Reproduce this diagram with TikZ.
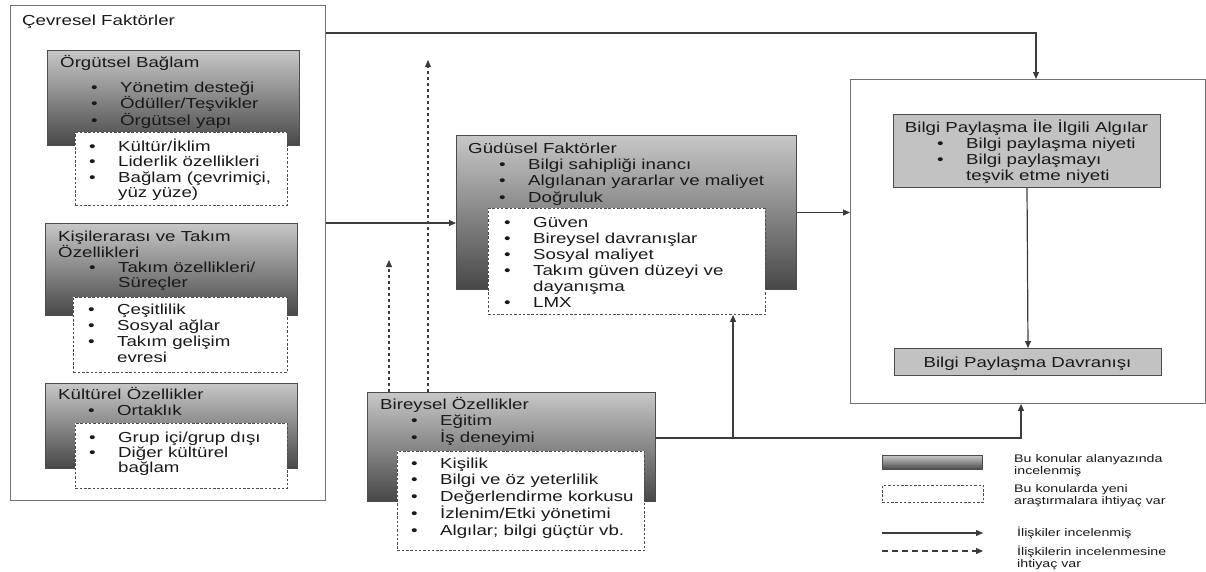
\documentclass[tikz,border=0pt]{standalone}
\usepackage{fontspec}
\setmainfont{Liberation Sans}[FakeStretch=1.29]
\usetikzlibrary{arrows.meta}

\definecolor{ink}{gray}{0.1}
\definecolor{edge}{gray}{0.3}
\definecolor{shadetop}{gray}{0.78}
\definecolor{shadebot}{gray}{0.28}
\definecolor{flatgray}{gray}{0.76}

\newcommand{\bul}{\makebox[29pt][l]{\textbullet}}
\newcommand{\cnt}{\hspace*{29pt}}
\newcommand{\rows}[1]{\begin{tabular}[t]{@{}l@{}}#1\end{tabular}}

\begin{document}
\begin{tikzpicture}[
  x=1pt, y=-1pt,
  every node/.append style={text=ink},
  sz/.style 2 args={minimum width=#1pt, minimum height=#2pt},
  frame/.style={draw=edge!80, line width=0.9pt, anchor=north west, inner sep=0pt},
  shadebox/.style={draw=edge, line width=1pt, top color=shadetop,
    bottom color=shadebot, anchor=north west, inner sep=0pt},
  flatbox/.style={draw=edge, line width=1pt, fill=flatgray, anchor=north west,
    inner sep=0pt},
  gapbox/.style={draw=edge, line width=0.9pt, dash pattern=on 2.5pt off 1.8pt,
    fill=white, anchor=north west, inner sep=0pt},
  txt/.style={anchor=base west, inner sep=0pt, font=\fontsize{14.5}{#1}\selectfont},
  txt/.default=16,
  key/.style={anchor=base west, inner sep=0pt, font=\fontsize{11}{12}\selectfont},
  rel/.style={draw=ink!85, line width=1.2pt, -{Triangle[length=7pt,width=6pt]}},
  relopen/.style={rel, dash pattern=on 3.5pt off 2.5pt},
  keyopen/.style={rel, dash pattern=on 6pt off 4pt},
]
\useasboundingbox (0,0) rectangle (1206,571);

% ------------------------------------------------------ the two frames
\node[frame, sz={315}{495}] (cevre) at (10,5) {};
\node[frame, sz={355}{324}] (sonuc) at (850,79) {};
\node[txt] (cevre-t) at (22,25) {Çevresel Faktörler};

% ------------------------------------------------------ örgütsel bağlam
\node[shadebox, sz={252}{95}] (orgut) at (47,50) {};
\node[txt] (orgut-t) at (60,67) {Örgütsel Bağlam};
\node[txt=15] (orgut-l) at (91,92)
  {\rows{\bul Yönetim desteği\\ \bul Ödüller/Teşvikler\\ \bul Örgütsel yapı}};
\node[gapbox, sz={212}{73}] (orgut-d) at (75,132) {};
\node[txt=15.5] (orgut-dl) at (89,151)
  {\rows{\bul Kültür/İklim\\ \bul Liderlik özellikleri\\
   \bul Bağlam (çevrimiçi,\\ \cnt yüz yüze)}};

% ------------------------------------------------------ kişilerarası
\node[shadebox, sz={252}{92}] (kisi) at (45,223) {};
\node[txt=15] (kisi-t) at (58,241) {\rows{Kişilerarası ve Takım\\ Özellikleri}};
\node[txt=15.5] (kisi-l) at (89,272) {\rows{\bul Takım özellikleri/\\ \cnt Süreçler}};
\node[gapbox, sz={214}{75}] (kisi-d) at (73,297) {};
\node[txt=16.3] (kisi-dl) at (88,314)
  {\rows{\bul Çeşitlilik\\ \bul Sosyal ağlar\\ \bul Takım gelişim\\ \cnt evresi}};

% ------------------------------------------------------ kültürel
\node[shadebox, sz={252}{85}] (kultur) at (45,383) {};
\node[txt] (kultur-t) at (58,399) {Kültürel Özellikler};
\node[txt] (kultur-l) at (88,415) {\rows{\bul Ortaklık}};
\node[gapbox, sz={212}{65}] (kultur-d) at (75,423) {};
\node[txt=15.3] (kultur-dl) at (89,442)
  {\rows{\bul Grup içi/grup dışı\\ \bul Diğer kültürel\\ \cnt bağlam}};

% ------------------------------------------------------ güdüsel
\node[shadebox, sz={340}{154}] (gudu) at (456,135) {};
\node[txt] (gudu-t) at (468,153) {Güdüsel Faktörler};
\node[txt=16.5] (gudu-l) at (499,169)
  {\rows{\bul Bilgi sahipliği inancı\\ \bul Algılanan yararlar ve maliyet\\
   \bul Doğruluk}};
\node[gapbox, sz={277}{106}] (gudu-d) at (488,208) {};
\node[txt=16.1] (gudu-dl) at (504,227)
  {\rows{\bul Güven\\ \bul Bireysel davranışlar\\ \bul Sosyal maliyet\\
   \bul Takım güven düzeyi ve\\ \cnt dayanışma\\ \bul LMX}};

% ------------------------------------------------------ bireysel
\node[shadebox, sz={288}{109}] (birey) at (367,392) {};
\node[txt] (birey-t) at (380,409) {Bireysel Özellikler};
\node[txt] (birey-l) at (411,425) {\rows{\bul Eğitim\\ \bul İş deneyimi}};
\node[gapbox, sz={247}{99}] (birey-d) at (397,451) {};
\node[txt=16.5] (birey-dl) at (411,468)
  {\rows{\bul Kişilik\\ \bul Bilgi ve öz yeterlilik\\ \bul Değerlendirme korkusu\\
   \bul İzlenim/Etki yönetimi\\ \bul Algılar; bilgi güçtür vb.}};

% ------------------------------------------------------ bilgi paylaşma
\node[flatbox, sz={267}{73}] (algi) at (893,114) {};
\node[txt, anchor=base] (algi-t) at (1026.5,132) {Bilgi Paylaşma İle İlgili Algılar};
\node[txt] (algi-l) at (937,148)
  {\rows{\bul Bilgi paylaşma niyeti\\ \bul Bilgi paylaşmayı\\ \cnt teşvik etme niyeti}};
\node[flatbox, sz={267}{27}] (davr) at (894,348) {};
\node[txt, anchor=base] (davr-t) at (1027.5,367) {Bilgi Paylaşma Davranışı};

% ------------------------------------------------------ relations
\coordinate (k1) at (1036,33);
\coordinate (k2) at (0,223);
\coordinate (k4) at (1021,438);
\coordinate (k5) at (733,438);
\coordinate (up1) at (428,60);
\coordinate (up2) at (389,260);
\draw[rel] (cevre.east |- k1) -- (k1) -- (sonuc.north -| k1);
\draw[rel] (cevre.east |- k2) -- (gudu.west |- k2);
\draw[rel] (gudu.east) -- (sonuc.west |- gudu.east);
\draw[rel] (birey.east |- k4) -- (k4) -- (sonuc.south -| k4);
\draw[rel] (k5) -- (gudu-d.south -| k5);
\draw[rel] (algi.south) -- (davr.north);
% the two relations still waiting for research
\draw[relopen] (birey.north -| up1) -- (up1);
\draw[relopen] (birey.north -| up2) -- (up2);

% ------------------------------------------------------ legend
\node[shadebox, sz={100}{14}] (key-a) at (882,455) {};
\node[key] (key-at) at (1014,462) {\rows{Bu konular alanyazında\\ incelenmiş}};
\node[gapbox, sz={101}{17}] (key-b) at (882,485) {};
\node[key] (key-bt) at (1014,492) {\rows{Bu konularda yeni\\ araştırmalara ihtiyaç var}};
\coordinate (key-c0) at (882,533);
\coordinate (key-c1) at (983,533);
\draw[rel] (key-c0) -- (key-c1);
\node[key] (key-ct) at (1017,536) {İlişkiler incelenmiş};
\coordinate (key-d0) at (882,551);
\coordinate (key-d1) at (983,551);
\draw[keyopen] (key-d0) -- (key-d1);
\node[key] (key-dt) at (1017,555) {\rows{İlişkilerin incelenmesine\\ ihtiyaç var}};

\end{tikzpicture}
\end{document}
